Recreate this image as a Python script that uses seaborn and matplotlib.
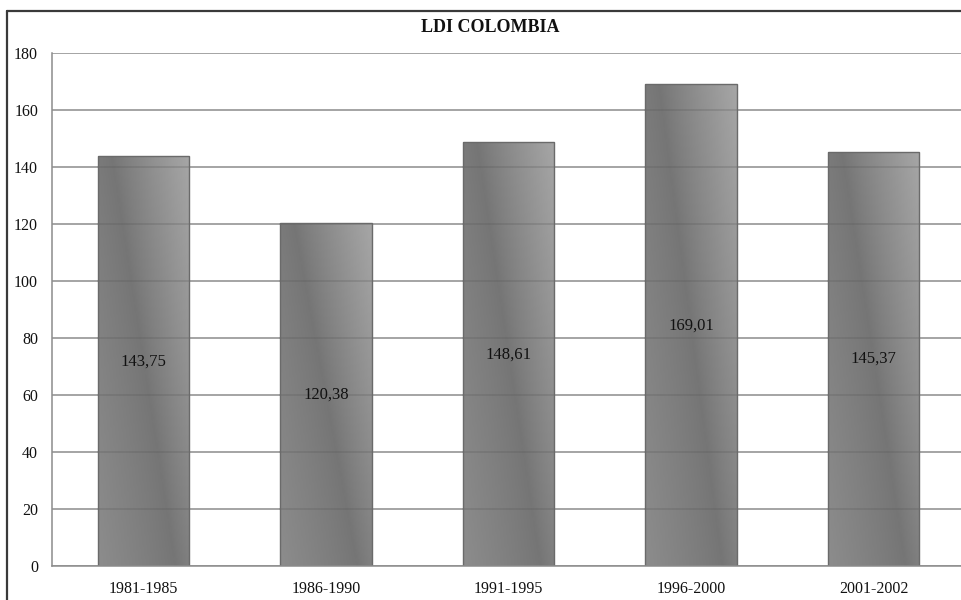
import numpy as np
import pandas as pd
import matplotlib
matplotlib.use("Agg")
import matplotlib.pyplot as plt
import seaborn as sns
from matplotlib.lines import Line2D

periods = ["1981-1985", "1986-1990", "1991-1995", "1996-2000", "2001-2002"]
ldi = [143.75, 120.38, 148.61, 169.01, 145.37]
y_ticks = [0, 20, 40, 60, 80, 100, 120, 140, 160, 180]

df = pd.DataFrame({"periodo": periods, "ldi": ldi})

sns.set_theme(style="white")
plt.rcParams["font.family"] = ["Liberation Serif", "DejaVu Serif"]

W, H = 962, 600
fig = plt.figure(figsize=(W / 100, H / 100), dpi=100)
fig.patch.set_facecolor("white")

# plot area (pixel layout converted to figure fractions)
left_px, right_px, top_px, bottom_px = 52, 965, 53, 566
ax = fig.add_axes([left_px / W, 1 - bottom_px / H,
                   (right_px - left_px) / W, (bottom_px - top_px) / H])

sns.barplot(data=df, x="periodo", y="ldi", order=periods, width=0.5,
            color="#888888", ax=ax, edgecolor="#6a6a6a", linewidth=1.0)

ax.set_ylim(0, 180)
ax.set_xlim(-0.5, len(periods) - 0.5)
ax.set_yticks(y_ticks)
ax.set_yticklabels([str(v) for v in y_ticks])
ax.set_xlabel("")
ax.set_ylabel("")

# horizontal gridlines behind the bars
ax.set_axisbelow(True)
ax.yaxis.grid(True, color="#8c8c8c", linewidth=1.1)
ax.xaxis.grid(False)

for side in ["top", "right"]:
    ax.spines[side].set_visible(False)
for side in ["left", "bottom"]:
    ax.spines[side].set_visible(True)
    ax.spines[side].set_color("#8c8c8c")
    ax.spines[side].set_linewidth(1.1)

# category-boundary ticks on x, outward ticks on y
ax.set_xticks(np.arange(len(periods)))
ax.set_xticklabels(periods)
ax.set_xticks(np.arange(len(periods) + 1) - 0.5, minor=True)
ax.tick_params(axis="x", which="major", length=0, pad=11, labelsize=11.5, colors="#111111")
ax.tick_params(axis="x", which="minor", length=5, width=1.0, color="#8c8c8c", direction="out")
ax.tick_params(axis="y", which="major", length=5, width=1.0, color="#8c8c8c",
               direction="out", pad=5, labelsize=11.5, labelcolor="#111111")

# soft diagonal gray gradient inside each bar (dark band runs top-left to bottom-right)
ny, nx = 200, 60
xf = np.linspace(0, 1, nx)[None, :]
yf = np.linspace(1, 0, ny)[:, None]
t = xf - (0.15 + 0.7 * (1 - yf))
dark, light_tr, light_bl = 0.46, 0.65, 0.55
grad = np.where(t > 0,
                dark + (light_tr - dark) * np.clip(t / 0.85, 0, 1) ** 0.9,
                dark + (light_bl - dark) * np.clip(-t / 0.85, 0, 1) ** 0.9)

for patch in ax.patches:
    x0 = patch.get_x()
    w = patch.get_width()
    h = patch.get_height()
    img = ax.imshow(grad, cmap="gray", vmin=0, vmax=1, aspect="auto",
                    extent=[x0, x0 + w, 0, h], origin="upper",
                    interpolation="bicubic", zorder=patch.get_zorder() + 0.1)
    img.set_clip_path(patch)
    # gridlines faintly visible through the bar
    for yv in y_ticks[1:]:
        if yv < h:
            ln = ax.plot([x0, x0 + w], [yv, yv], color="#555555", alpha=0.3,
                         linewidth=1.1, zorder=patch.get_zorder() + 0.15)[0]
    patch.set_facecolor("none")
    patch.set_zorder(patch.get_zorder() + 0.2)

ax.set_xlim(-0.5, len(periods) - 0.5)
ax.set_ylim(0, 180)

# value labels at mid-height of each bar
for i, v in enumerate(ldi):
    ax.text(i, v / 2, f"{v:.2f}".replace(".", ","), ha="center", va="center",
            fontsize=12, color="#111111", zorder=10)

fig.text(490 / W, 1 - 28 / H, "LDI COLOMBIA", ha="center", va="center",
         fontsize=13, fontweight="bold", color="#111111")

# outer chart frame
frame_kw = dict(color="#3a3a3a", linewidth=1.6, transform=fig.transFigure)
fig.add_artist(Line2D([7 / W, 1.01], [1 - 11 / H, 1 - 11 / H], **frame_kw))
fig.add_artist(Line2D([7 / W, 7 / W], [1 - 11 / H, -0.01], **frame_kw))

fig.savefig("out.png", dpi=100, facecolor="white")
